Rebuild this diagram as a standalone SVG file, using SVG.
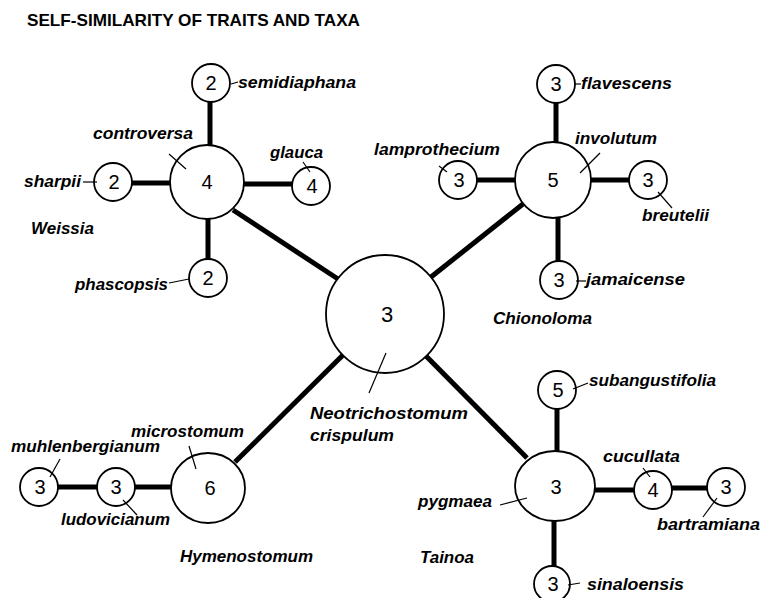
<svg xmlns="http://www.w3.org/2000/svg" width="761" height="598" viewBox="0 0 761 598">
<style>
.bg{fill:#fff}
.title{font-family:"Liberation Sans",Arial,sans-serif;font-weight:bold;font-size:17px;fill:#000}
.lbl{font-family:"Liberation Sans",Arial,sans-serif;font-weight:bold;font-style:italic;font-size:17px;fill:#000}
.num{font-family:"Liberation Sans",Arial,sans-serif;font-size:20px;fill:#000;text-anchor:middle}
.nd{fill:#fff;stroke:#000;stroke-width:1.8}
.ld{stroke:#000;stroke-width:1.2;fill:none}
.cn{stroke:#000;stroke-width:5;fill:none}
</style>
<rect class="bg" x="0" y="0" width="761" height="598"/>
<text class="title" x="27" y="26" textLength="333" lengthAdjust="spacingAndGlyphs">SELF-SIMILARITY OF TRAITS AND TAXA</text>

<g id="connectors">
<line class="cn" x1="210" y1="102" x2="210" y2="145"/>
<line class="cn" x1="132" y1="183" x2="170" y2="183"/>
<line class="cn" x1="244" y1="184" x2="292" y2="184"/>
<line class="cn" x1="208" y1="219" x2="208" y2="259"/>
<line class="cn" x1="233" y1="210" x2="338" y2="279"/>
<line class="cn" x1="556" y1="103" x2="556" y2="142"/>
<line class="cn" x1="477" y1="180" x2="515" y2="180"/>
<line class="cn" x1="591" y1="180" x2="629" y2="180"/>
<line class="cn" x1="558" y1="218" x2="558" y2="261"/>
<line class="cn" x1="431" y1="277" x2="523" y2="204"/>
<line class="cn" x1="58" y1="487" x2="97" y2="487"/>
<line class="cn" x1="135" y1="487" x2="171" y2="487"/>
<line class="cn" x1="343" y1="355" x2="235" y2="462"/>
<line class="cn" x1="426" y1="356" x2="527" y2="458"/>
<line class="cn" x1="557" y1="409" x2="557" y2="451"/>
<line class="cn" x1="595" y1="490" x2="634" y2="490"/>
<line class="cn" x1="672" y1="488" x2="707" y2="488"/>
<line class="cn" x1="554" y1="521" x2="554" y2="566"/>
</g>

<g id="n-semidiaphana">
<circle class="nd" cx="211" cy="83" r="19"/><text class="num" x="211" y="90">2</text>
<line class="ld" x1="231" y1="84" x2="238" y2="82"/>
<text class="lbl" x="238" y="88" textLength="118" lengthAdjust="spacingAndGlyphs">semidiaphana</text>
</g>
<g id="n-controversa">
<circle class="nd" cx="207" cy="182" r="37"/><text class="num" x="207" y="189">4</text>
<line class="ld" x1="169" y1="154" x2="186" y2="169"/>
<text class="lbl" x="93" y="139" textLength="100" lengthAdjust="spacingAndGlyphs">controversa</text>
</g>
<g id="n-sharpii">
<circle class="nd" cx="113" cy="182" r="19"/><text class="num" x="114" y="189">2</text>
<line class="ld" x1="83" y1="182" x2="97" y2="182"/>
<text class="lbl" x="24" y="187" textLength="57" lengthAdjust="spacingAndGlyphs">sharpii</text>
</g>
<g id="n-glauca">
<circle class="nd" cx="311" cy="186" r="19"/><text class="num" x="312" y="193">4</text>
<line class="ld" x1="303" y1="162" x2="310" y2="172"/>
<text class="lbl" x="270" y="158" textLength="53" lengthAdjust="spacingAndGlyphs">glauca</text>
</g>
<g id="n-phascopsis">
<circle class="nd" cx="208" cy="278" r="19"/><text class="num" x="208" y="285">2</text>
<line class="ld" x1="169" y1="283" x2="189" y2="279"/>
<text class="lbl" x="75" y="290" textLength="93" lengthAdjust="spacingAndGlyphs">phascopsis</text>
</g>
<g id="g-weissia"><text class="lbl" x="31" y="234" textLength="63" lengthAdjust="spacingAndGlyphs">Weissia</text></g>

<g id="n-flavescens">
<circle class="nd" cx="556" cy="84" r="19"/><text class="num" x="556" y="91">3</text>
<line class="ld" x1="575" y1="84" x2="581" y2="84"/>
<text class="lbl" x="581" y="89" textLength="91" lengthAdjust="spacingAndGlyphs">flavescens</text>
</g>
<g id="n-involutum">
<circle class="nd" cx="553" cy="180" r="38"/><text class="num" x="553" y="187">5</text>
<line class="ld" x1="580" y1="173" x2="600" y2="153"/>
<text class="lbl" x="575" y="144" textLength="82" lengthAdjust="spacingAndGlyphs">involutum</text>
</g>
<g id="n-lamprothecium">
<circle class="nd" cx="458" cy="180" r="19"/><text class="num" x="459" y="187">3</text>
<line class="ld" x1="439" y1="166" x2="447" y2="172"/>
<text class="lbl" x="374" y="155" textLength="126" lengthAdjust="spacingAndGlyphs">lamprothecium</text>
</g>
<g id="n-breutelii">
<circle class="nd" cx="648" cy="180" r="19"/><text class="num" x="648" y="187">3</text>
<line class="ld" x1="658" y1="192" x2="672" y2="208"/>
<text class="lbl" x="642" y="221" textLength="67" lengthAdjust="spacingAndGlyphs">breutelii</text>
</g>
<g id="n-jamaicense">
<circle class="nd" cx="559" cy="280" r="19"/><text class="num" x="559" y="287">3</text>
<line class="ld" x1="576" y1="281" x2="586" y2="281"/>
<text class="lbl" x="586" y="285" textLength="99" lengthAdjust="spacingAndGlyphs">jamaicense</text>
</g>
<g id="g-chionoloma"><text class="lbl" x="493" y="324" textLength="99" lengthAdjust="spacingAndGlyphs">Chionoloma</text></g>

<g id="n-crispulum">
<circle class="nd" cx="385" cy="314" r="59"/><text class="num" x="387" y="322" style="font-size:22px">3</text>
<line class="ld" x1="386" y1="353" x2="369" y2="393"/>
<text class="lbl" x="310" y="419" textLength="158" lengthAdjust="spacingAndGlyphs">Neotrichostomum</text>
<text class="lbl" x="310" y="441" textLength="84" lengthAdjust="spacingAndGlyphs">crispulum</text>
</g>

<g id="n-muhlenbergianum">
<circle class="nd" cx="39" cy="487" r="19"/><text class="num" x="40" y="494">3</text>
<line class="ld" x1="60" y1="459" x2="50" y2="477"/>
<text class="lbl" x="11" y="452" textLength="149" lengthAdjust="spacingAndGlyphs">muhlenbergianum</text>
</g>
<g id="n-ludovicianum">
<circle class="nd" cx="116" cy="487" r="19"/><text class="num" x="116" y="494">3</text>
<line class="ld" x1="123" y1="500" x2="137" y2="515"/>
<text class="lbl" x="61" y="525" textLength="109" lengthAdjust="spacingAndGlyphs">ludovicianum</text>
</g>
<g id="n-microstomum">
<ellipse class="nd" cx="208" cy="488" rx="37" ry="35"/><text class="num" x="210" y="495">6</text>
<line class="ld" x1="189" y1="446" x2="196" y2="469"/>
<text class="lbl" x="131" y="437" textLength="113" lengthAdjust="spacingAndGlyphs">microstomum</text>
</g>
<g id="g-hymenostomum"><text class="lbl" x="180" y="562" textLength="133" lengthAdjust="spacingAndGlyphs">Hymenostomum</text></g>

<g id="n-subangustifolia">
<circle class="nd" cx="557" cy="390" r="19"/><text class="num" x="558" y="397">5</text>
<line class="ld" x1="573" y1="389" x2="588" y2="383"/>
<text class="lbl" x="589" y="386" textLength="127" lengthAdjust="spacingAndGlyphs">subangustifolia</text>
</g>
<g id="n-pygmaea">
<ellipse class="nd" cx="555" cy="486" rx="40" ry="35"/><text class="num" x="556" y="494">3</text>
<line class="ld" x1="500" y1="505" x2="527" y2="498"/>
<text class="lbl" x="418" y="507" textLength="74" lengthAdjust="spacingAndGlyphs">pygmaea</text>
</g>
<g id="n-cucullata">
<circle class="nd" cx="653" cy="490" r="19"/><text class="num" x="653" y="497">4</text>
<line class="ld" x1="643" y1="468" x2="650" y2="477"/>
<text class="lbl" x="603" y="462" textLength="77" lengthAdjust="spacingAndGlyphs">cucullata</text>
</g>
<g id="n-bartramiana">
<circle class="nd" cx="726" cy="487" r="19"/><text class="num" x="726" y="494">3</text>
<line class="ld" x1="717" y1="498" x2="703" y2="517"/>
<text class="lbl" x="657" y="530" textLength="103" lengthAdjust="spacingAndGlyphs">bartramiana</text>
</g>
<g id="n-sinaloensis">
<circle class="nd" cx="552" cy="584" r="18"/><text class="num" x="553" y="591">3</text>
<line class="ld" x1="568" y1="585" x2="580" y2="583"/>
<text class="lbl" x="587" y="590" textLength="97" lengthAdjust="spacingAndGlyphs">sinaloensis</text>
</g>
<g id="g-tainoa"><text class="lbl" x="420" y="563" textLength="54" lengthAdjust="spacingAndGlyphs">Tainoa</text></g>
</svg>
